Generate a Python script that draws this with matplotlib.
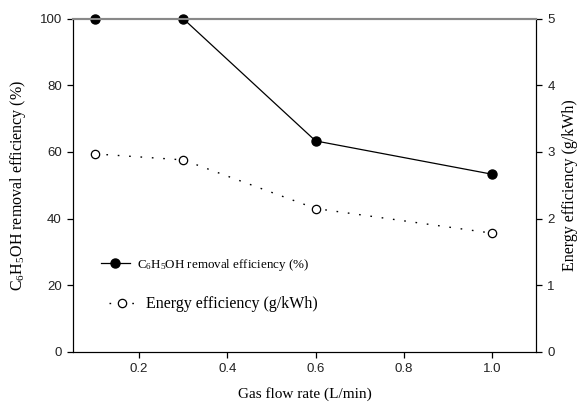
import matplotlib
matplotlib.use("Agg")
import matplotlib.pyplot as plt

plt.rcParams['mathtext.fontset'] = 'custom'
plt.rcParams['mathtext.rm'] = 'Liberation Serif'
plt.rcParams['mathtext.it'] = 'Liberation Serif:italic'

flow = [0.1, 0.3, 0.6, 1.0]
removal = [100, 100, 63.3, 53.3]
energy = [2.97, 2.88, 2.15, 1.78]
xticks = [0.2, 0.4, 0.6, 0.8, 1.0]

serif = 'Liberation Serif'
sans = 'Liberation Sans'

fig = plt.figure(figsize=(5.79, 4.05), dpi=100)
ax = fig.add_axes([0.126, 0.1316, 0.8, 0.8222])
ax2 = ax.twinx()

l1, = ax.plot(flow, removal, color='black', lw=0.9, marker='o', ms=6.5,
              mfc='black', mec='black', clip_on=False, zorder=5)
l2, = ax2.plot(flow, energy, color='black', lw=1.0, ls=(0, (1.2, 7)),
               marker='o', ms=6, mfc='white', mec='black', mew=0.9, clip_on=False)

ax.set_xlim(0.05, 1.1)
ax.set_ylim(0, 100)
ax2.set_ylim(0, 5)
ax.set_xticks(xticks)
ax.set_xticklabels([f"{t:.1f}" for t in xticks])
ax.set_yticks([0, 20, 40, 60, 80, 100])
ax2.set_yticks([0, 1, 2, 3, 4, 5])

for a in (ax, ax2):
    a.tick_params(direction='out', length=4, width=0.9, labelsize=9.5, pad=4)
    for lab in a.get_xticklabels() + a.get_yticklabels():
        lab.set_fontfamily(sans)
        lab.set_color('#222222')
for a in (ax, ax2):
    a.spines['top'].set_color('#888888')
    a.spines['top'].set_linewidth(1.5)

ax.set_xlabel('Gas flow rate (L/min)', family=serif, fontsize=11, labelpad=9)
ax.set_ylabel(r'C$_6$H$_5$OH removal efficiency (%)', family=serif, fontsize=11.5, labelpad=8)
ax2.set_ylabel('Energy efficiency (g/kWh)', family=serif, fontsize=11.5, labelpad=5)

leg1 = ax.legend([l1], [r'C$_6$H$_5$OH removal efficiency (%)'], loc='upper left',
                 bbox_to_anchor=(0.049, 0.30), frameon=False, handlelength=2.2,
                 handletextpad=0.55, prop={'family': serif, 'size': 9.4}, borderaxespad=0)
leg2 = ax2.legend([l2], ['Energy efficiency (g/kWh)'], loc='upper left',
                  bbox_to_anchor=(0.064, 0.185), frameon=False, handlelength=1.6,
                  handletextpad=0.7, prop={'family': serif, 'size': 11.5}, borderaxespad=0)

fig.savefig('out.png', dpi=100)
